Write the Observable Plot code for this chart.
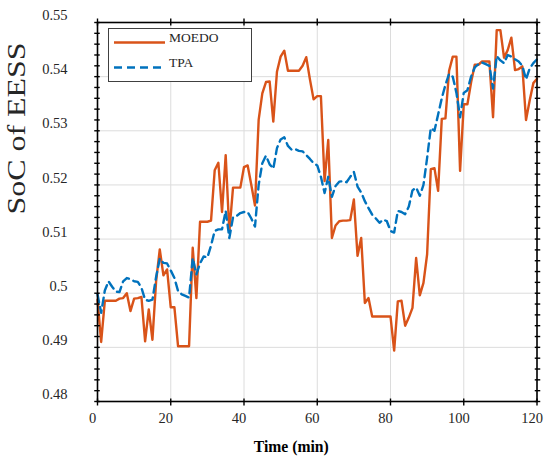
<!DOCTYPE html>
<html><head><meta charset="utf-8">
<script src="https://cdn.jsdelivr.net/npm/d3@7"></script>
<script src="https://cdn.jsdelivr.net/npm/@observablehq/plot@0.6"></script>
<style>
body{margin:0;background:#fff;}
#wrap{position:relative;width:550px;height:468px;}
#legend{position:absolute;left:108px;top:28px;width:144px;height:54px;box-sizing:border-box;border:1px solid #404040;background:#fff;}
</style></head><body>
<div id="wrap"><div id="legend"></div></div>
<script>
const seriesNames = ["MOEDO", "TPA"];
const seriesColors = ["#D95319", "#0072BD"];
const xTicks = [0, 20, 40, 60, 80, 100, 120];
const xTickLabels = ["0", "20", "40", "60", "80", "100", "120"];
const yMajor = [0.48, 0.49, 0.50, 0.51, 0.52, 0.53, 0.54, 0.55];
const yTickLabels = ["0.48", "0.49", "0.5", "0.51", "0.52", "0.53", "0.54", "0.55"];
const xTitle = "Time (min)";
const yTitle = "SoC of EESS";

const time = [0,1,2,3,4,5,6,7,8,9,10,11,12,13,14,15,16,17,18,19,20,21,22,23,24,25,26,27,28,29,30,31,32,33,34,35,36,37,38,39,40,41,42,43,44,45,46,47,48,49,50,51,52,53,54,55,56,57,58,59,60,61,62,63,64,65,66,67,68,69,70,71,72,73,74,75,76,77,78,79,80,81,82,83,84,85,86,87,88,89,90,91,92,93,94,95,96,97,98,99,100,101,102,103,104,105,106,107,108,109,110,111,112,113,114,115,116,117,118,119,120];

const moedo = [0.4988,0.4910,0.4986,0.4986,0.4986,0.4986,0.4990,0.4991,0.5000,0.4967,
0.4990,0.4991,0.4993,0.4911,0.4970,0.4914,0.5022,0.5081,0.5033,0.5044,
0.4974,0.4974,0.4902,0.4902,0.4902,0.4902,0.5084,0.4991,0.5132,0.5132,
0.5132,0.5134,0.5227,0.5241,0.5150,0.5255,0.5113,0.5195,0.5195,0.5195,
0.5233,0.5236,0.5200,0.5162,0.5320,0.5369,0.5390,0.5391,0.5317,0.5409,
0.5437,0.5448,0.5411,0.5411,0.5411,0.5411,0.5420,0.5436,0.5395,0.5358,
0.5364,0.5364,0.5207,0.5283,0.5102,0.5125,0.5133,0.5134,0.5134,0.5135,
0.5173,0.5069,0.5102,0.4982,0.4991,0.4957,0.4957,0.4957,0.4957,0.4957,
0.4957,0.4894,0.4985,0.4986,0.4940,0.4955,0.4973,0.5065,0.4996,0.5019,
0.5072,0.5229,0.5231,0.5189,0.5322,0.5323,0.5411,0.5437,0.5437,0.5226,
0.5349,0.5349,0.5389,0.5422,0.5422,0.5428,0.5428,0.5428,0.5325,0.5486,
0.5486,0.5435,0.5449,0.5472,0.5412,0.5414,0.5419,0.5320,0.5356,0.5388,
0.5396];

const tpa = [0.4998,0.4964,0.5005,0.5022,0.5012,0.5003,0.5002,0.5022,0.5028,0.5026,
0.5022,0.5021,0.5010,0.4988,0.4986,0.4988,0.5030,0.5064,0.5056,0.5055,
0.5042,0.5028,0.5004,0.4998,0.4995,0.4992,0.5065,0.5035,0.5055,0.5068,
0.5066,0.5088,0.5115,0.5118,0.5118,0.5152,0.5102,0.5140,0.5143,0.5148,
0.5150,0.5150,0.5138,0.5123,0.5200,0.5240,0.5254,0.5238,0.5230,0.5268,
0.5284,0.5288,0.5272,0.5265,0.5266,0.5263,0.5262,0.5255,0.5248,0.5240,
0.5236,0.5215,0.5185,0.5215,0.5178,0.5198,0.5206,0.5207,0.5205,0.5215,
0.5224,0.5197,0.5186,0.5170,0.5157,0.5145,0.5138,0.5130,0.5136,0.5133,
0.5115,0.5112,0.5152,0.5150,0.5146,0.5160,0.5190,0.5195,0.5180,0.5200,
0.5250,0.5305,0.5300,0.5330,0.5360,0.5385,0.5405,0.5400,0.5370,0.5325,
0.5370,0.5375,0.5400,0.5417,0.5423,0.5426,0.5423,0.5420,0.5378,0.5438,
0.5430,0.5425,0.5440,0.5437,0.5432,0.5428,0.5420,0.5395,0.5415,0.5425,
0.5432];

const yMinor = d3.range(0, 36).map(i => 0.48 + i * 0.002);

const moedoRows = time.map((t, i) => ({t, v: moedo[i]}));
const tpaRows = time.map((t, i) => ({t, v: tpa[i]}));

const serif = "'Liberation Serif','Times New Roman','DejaVu Serif',serif";
const ink = "#262626";

const chart = Plot.plot({
  width: 550,
  height: 468,
  marginLeft: 97,
  marginRight: 13.5,
  marginTop: 22,
  marginBottom: 67,
  style: {fontFamily: serif, fontSize: "14.5px", color: ink, background: "#fff"},
  x: {domain: [0, 120]},
  y: {domain: [0.48, 0.55]},
  marks: [
    Plot.gridX(xTicks, {stroke: "#dcdcdc", strokeOpacity: 1, strokeWidth: 1}),
    Plot.gridY(yMajor, {stroke: "#dcdcdc", strokeOpacity: 1, strokeWidth: 1}),
    Plot.line(moedoRows, {x: "t", y: "v", stroke: seriesColors[0], strokeWidth: 2.4, strokeLinejoin: "round"}),
    Plot.line(tpaRows, {x: "t", y: "v", stroke: seriesColors[1], strokeWidth: 2.4, strokeDasharray: "8,5"}),
    Plot.frame({stroke: "#000", strokeWidth: 1.6}),
    Plot.axisX(xTicks, {anchor: "bottom", tickSize: 7, dy: -2.5, tickFormat: () => "", label: null, stroke: "#000", strokeWidth: 1.4}),
    Plot.axisX(xTicks, {anchor: "top", tickSize: 7, dy: 2.5, tickFormat: () => "", label: null, stroke: "#000", strokeWidth: 1.4}),
    Plot.axisY(yMinor, {anchor: "left", tickSize: 5.5, dx: 2.75, tickFormat: () => "", label: null, stroke: "#000", strokeWidth: 1.4}),
    Plot.axisY(yMinor, {anchor: "right", tickSize: 5.5, dx: -2.75, tickFormat: () => "", label: null, stroke: "#000", strokeWidth: 1.4}),
    Plot.axisX(xTicks, {anchor: "bottom", tickSize: 0, tickPadding: 11, dx: -5, label: null, fill: ink,
      tickFormat: d => xTickLabels[xTicks.indexOf(d)]}),
    Plot.axisY(yMajor, {anchor: "left", tickSize: 0, tickPadding: 30, dy: -7, label: null, fill: ink,
      tickFormat: d => yTickLabels[yMajor.indexOf(d)]}),
    Plot.text([yTitle], {frameAnchor: "left", text: d => d, rotate: -90, dx: -81, dy: 2.5, fontSize: 25, fill: ink}),
    Plot.text([xTitle], {frameAnchor: "bottom", text: d => d, dx: -26, dy: 50.5, fontSize: 17, fontWeight: "bold", fill: "#000"})
  ]
});

d3.select(chart).selectAll("text")
  .filter(function () { return this.textContent === yTitle; })
  .attr("textLength", 172).attr("lengthAdjust", "spacingAndGlyphs");
d3.select(chart).selectAll("text")
  .filter(function () { return this.textContent === xTitle; })
  .attr("textLength", 75).attr("lengthAdjust", "spacingAndGlyphs");

document.getElementById("wrap").prepend(chart);

// legend (inside the axes, top-left)
const lg = d3.select("#legend").append("svg").attr("width", 142).attr("height", 52)
  .style("display", "block");
const rows = [{y: 13.5, ty: 8.5}, {y: 38.5, ty: 33}];
seriesNames.forEach((name, i) => {
  lg.append("line").attr("x1", 5).attr("x2", 56).attr("y1", rows[i].y).attr("y2", rows[i].y)
    .attr("stroke", seriesColors[i]).attr("stroke-width", 2.4)
    .attr("stroke-dasharray", i === 1 ? "8,5" : null);
  lg.append("text").attr("x", 60).attr("y", rows[i].ty).attr("dominant-baseline", "central")
    .attr("font-family", serif).attr("font-size", 13.5).attr("fill", ink).text(name);
});
</script>
</body></html>
